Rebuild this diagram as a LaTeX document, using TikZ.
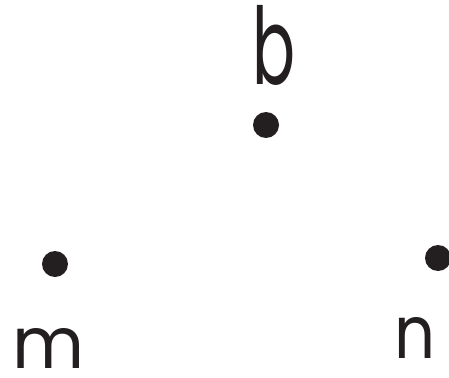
\documentclass[tikz,border=0pt]{standalone}
\usepackage{fontspec}
\setmainfont{Poppins}
\usepackage{graphicx}
\definecolor{ink}{HTML}{231F20}
\begin{document}
\begin{tikzpicture}[x=1pt,y=-1pt,
  dot/.style={circle,fill=ink,draw=none,minimum size=26pt,inner sep=0pt},
  letter/.style={inner sep=0pt,text=ink}]
\useasboundingbox (0,0) rectangle (449,377);
\node[dot] (db) at (266,125) {};
\node[dot] (dm) at (55,264) {};
\node[dot] (dn) at (438,258) {};
\node[letter] (lb) at (274.5,45) {\resizebox*{43pt}{80pt}{b}};
\node[letter] (lm) at (48.5,348) {\resizebox*{72pt}{40pt}{m}};
\node[letter] (ln) at (415,337.5) {\resizebox*{41pt}{41pt}{n}};
\end{tikzpicture}
\end{document}
